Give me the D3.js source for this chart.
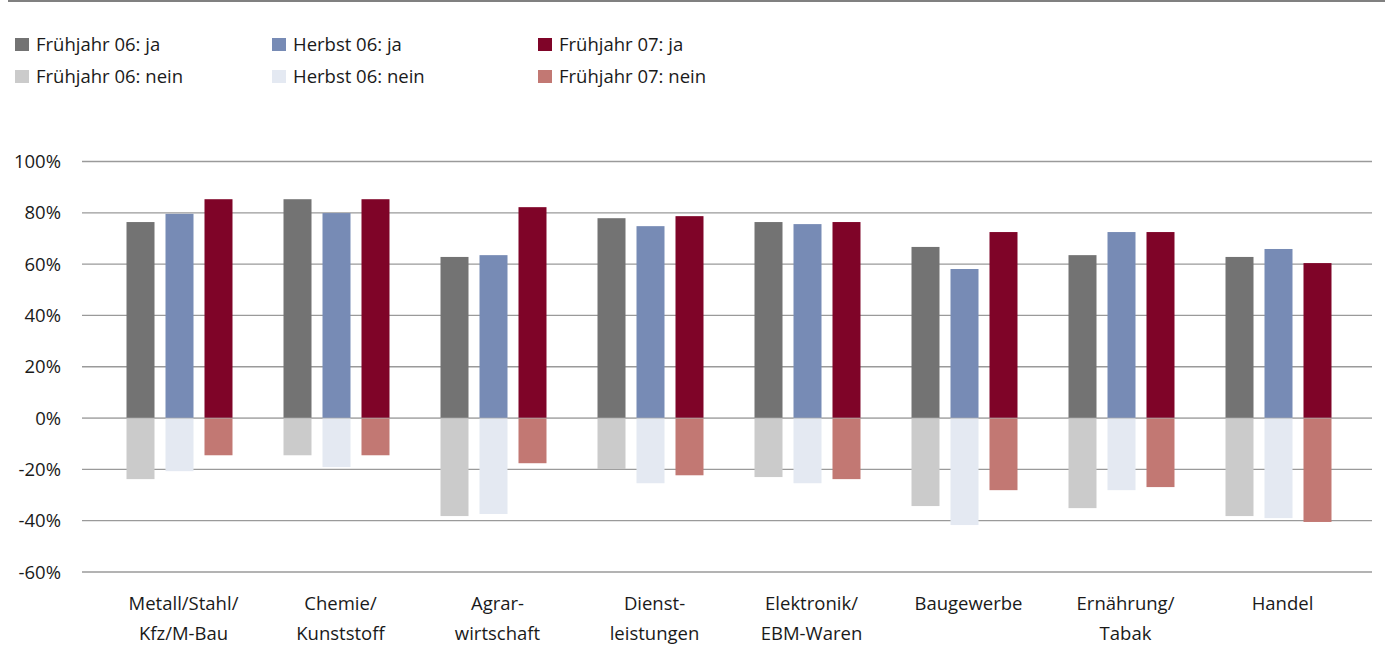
<!DOCTYPE html>
<html>
<head>
<meta charset="utf-8">
<script src="https://cdn.jsdelivr.net/npm/d3@7.9.0/dist/d3.min.js"></script>
<style>
  body { margin: 0; background: #fff; }
  svg text { font-family: "Open Sans", "Noto Sans", sans-serif; font-size: 18.5px; fill: #1a1a1a; }
</style>
</head>
<body>
<svg id="chart" width="1385" height="652"></svg>
<script>
// categories (two-line labels)
const categories = [
    ["Metall/Stahl/", "Kfz/M-Bau"],
    ["Chemie/", "Kunststoff"],
    ["Agrar-", "wirtschaft"],
    ["Dienst-", "leistungen"],
    ["Elektronik/", "EBM-Waren"],
    ["Baugewerbe"],
    ["Ernährung/", "Tabak"],
    ["Handel"]
];
const periods = ["Frühjahr 06", "Herbst 06", "Frühjahr 07"];

// answers in percent
const jaF06 = [76.4, 85.3, 62.8, 77.9, 76.4, 66.7, 63.5, 62.8];
const jaH06 = [79.6, 79.9, 63.5, 74.8, 75.6, 58.1, 72.5, 65.9];
const jaF07 = [85.3, 85.3, 82.2, 78.7, 76.4, 72.5, 72.5, 60.4];
const neinF06 = [-23.8, -14.5, -38.2, -19.9, -23.0, -34.3, -35.1, -38.2];
const neinH06 = [-20.7, -19.1, -37.4, -25.4, -25.4, -41.7, -28.1, -39.0];
const neinF07 = [-14.5, -14.5, -17.6, -22.3, -23.8, -28.1, -26.9, -40.5];

const yTicks = [100, 80, 60, 40, 20, 0, -20, -40, -60];

const series = [
    {name: "Frühjahr 06: ja",   period: periods[0], values: jaF06,   color: "#737373"},
    {name: "Herbst 06: ja",     period: periods[1], values: jaH06,   color: "#778bb5"},
    {name: "Frühjahr 07: ja",   period: periods[2], values: jaF07,   color: "#7f0428"},
    {name: "Frühjahr 06: nein", period: periods[0], values: neinF06, color: "#cbcbcb"},
    {name: "Herbst 06: nein",   period: periods[1], values: neinH06, color: "#e4e9f2"},
    {name: "Frühjahr 07: nein", period: periods[2], values: neinF07, color: "#c27873"}
];

const svg = d3.select("#chart");

// top rule
svg.append("line")
    .attr("x1", 8).attr("x2", 1385)
    .attr("y1", 1).attr("y2", 1)
    .attr("stroke", "#808080").attr("stroke-width", 2);

const gridLeft = 82, gridRight = 1372;

const y = d3.scaleLinear().domain([-60, 100]).range([572, 161.5]);
const x0 = d3.scaleBand().domain(d3.range(categories.length)).range([101, 1357]);
const x1 = d3.scaleBand().domain(periods).range([0, x0.bandwidth()])
    .paddingInner(0.282).paddingOuter(0.654);

// gridlines + y labels
svg.append("g").selectAll("line")
    .data(yTicks)
    .join("line")
    .attr("x1", gridLeft).attr("x2", gridRight)
    .attr("y1", d => y(d)).attr("y2", d => y(d))
    .attr("stroke", "#9a9a9a").attr("stroke-width", 1.3);

svg.append("g").selectAll("text")
    .data(yTicks)
    .join("text")
    .attr("x", 61)
    .attr("y", d => y(d) + 6.5)
    .attr("text-anchor", "end")
    .text(d => d + "%");

// bars
const bars = svg.append("g");
series.forEach(s => {
    bars.append("g").selectAll("rect")
        .data(s.values)
        .join("rect")
        .attr("x", (d, i) => x0(i) + x1(s.period))
        .attr("width", x1.bandwidth())
        .attr("y", d => y(Math.max(0, d)))
        .attr("height", d => Math.abs(y(d) - y(0)))
        .attr("fill", s.color);
});

// zero line slightly visible over bars
svg.append("line")
    .attr("x1", gridLeft).attr("x2", gridRight)
    .attr("y1", y(0)).attr("y2", y(0))
    .attr("stroke", "#b0b0b0").attr("stroke-width", 1.3).attr("opacity", 0.6);

// category labels
const catG = svg.append("g").selectAll("text")
    .data(categories)
    .join("text")
    .attr("text-anchor", "middle")
    .attr("x", (d, i) => x0(i) + x0.bandwidth() / 2 + 4)
    .attr("y", 610);
catG.selectAll("tspan")
    .data(d => d)
    .join("tspan")
    .attr("x", function() { return this.parentNode.getAttribute("x"); })
    .attr("dy", (d, i) => i === 0 ? 0 : 30)
    .text(d => d);

// legend: 3 columns, 2 rows
const legendCols = [15, 272, 538];
const legendRows = [38, 70];
const legend = svg.append("g").selectAll("g")
    .data(series)
    .join("g")
    .attr("transform", (d, i) => `translate(${legendCols[i % 3]},${legendRows[Math.floor(i / 3)]})`);
legend.append("rect")
    .attr("width", 14).attr("height", 13)
    .attr("fill", d => d.color);
legend.append("text")
    .attr("x", 21).attr("y", 13)
    .text(d => d.name);
</script>
</body>
</html>
